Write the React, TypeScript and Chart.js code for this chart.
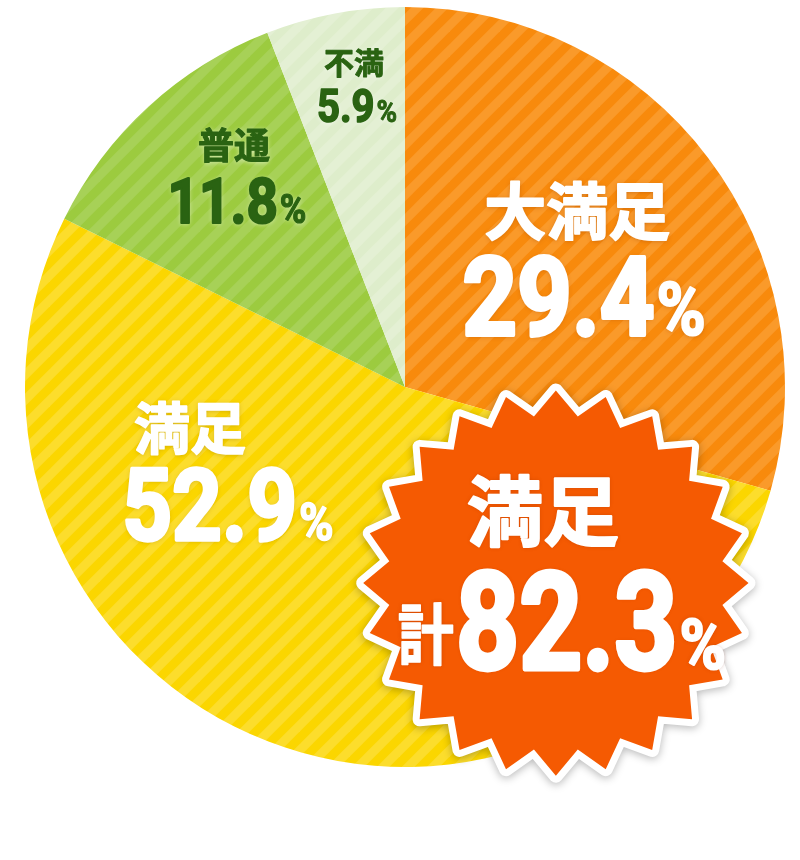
import React, { useEffect, useRef } from "react";
import { Chart, registerables } from "chart.js";

Chart.register(...registerables);

// ---- data ----
const categories = ["大満足", "満足", "普通", "不満"];
const values = [29.4, 52.9, 11.8, 5.9];
const summaryTitle = "満足";
const summaryPrefix = "計";
const summaryMembers = [0, 1];

// ---- styles ----
const baseColors = ["#F88A0C", "#FBD600", "#9CCB3F", "#DEEDCB"];
const stripeColors = ["#FA9A2A", "#FCDD2C", "#A7D157", "#E4F0D4"];
const textColors = ["#FFFFFF", "#FFFFFF", "#2A6312", "#2A6312"];
const shadowColors = ["rgba(150,60,0,0.45)", "rgba(140,100,0,0.40)", "rgba(255,255,255,0.6)", "rgba(255,255,255,0.6)"];
const titleSizes = [62, 56, 36, 30];
const numberSizes = [110, 100, 63, 46];
const pctSizes = [74, 52, 40, 31];
// label anchors relative to pie centre, in radius units: [titleX, titleY, numberCentreX, numberBaselineY]
const labelAnchors = [
  [0.453, -0.463, 0.471, -0.137],
  [-0.566, 0.108, -0.466, 0.403],
  [-0.45, -0.637, -0.442, -0.432],
  [-0.134, -0.855, -0.126, -0.697],
];
const burstAnchor = [0.397, 0.516];
const burstOuter = 0.507;
const burstInner = 0.442;
const burstSpikes = 24;

const NUM_FONT = "Roboto, 'Noto Sans', sans-serif";
const JP_FONT = "'Noto Sans CJK JP', 'Noto Sans', sans-serif";

function makeStripe(base: string, stripe: string) {
  const P = 25;
  const N = 2;
  const S = P * N;
  const c = document.createElement("canvas");
  c.width = S;
  c.height = S;
  const g = c.getContext("2d")!;
  g.fillStyle = base;
  g.fillRect(0, 0, S, S);
  g.strokeStyle = stripe;
  g.lineWidth = 9;
  for (let k = -N; k <= N; k++) {
    g.beginPath();
    g.moveTo(k * P - S, S + S);
    g.lineTo(k * P + S + S, -S);
    g.stroke();
  }
  return g.createPattern(c, "repeat")!;
}

function drawScaled(ctx: CanvasRenderingContext2D, text: string, x: number, y: number, font: string, sx: number, thick: number) {
  ctx.save();
  ctx.font = font;
  ctx.translate(x, y);
  ctx.scale(sx, 1);
  ctx.fillText(text, 0, 0);
  if (thick > 0) {
    ctx.shadowColor = "transparent";
    ctx.lineJoin = "round";
    ctx.lineWidth = thick;
    ctx.strokeStyle = ctx.fillStyle as string;
    ctx.strokeText(text, 0, 0);
  }
  ctx.restore();
}

function widthScaled(ctx: CanvasRenderingContext2D, text: string, font: string, sx: number) {
  ctx.save();
  ctx.font = font;
  const w = ctx.measureText(text).width * sx;
  ctx.restore();
  return w;
}

function drawNumberRow(
  ctx: CanvasRenderingContext2D,
  num: string,
  cx: number,
  baseline: number,
  numSize: number,
  pctSize: number,
  sx: number,
  prefix?: string,
  prefixSize?: number
) {
  const numFont = `bold ${numSize}px ${NUM_FONT}`;
  const pctFont = `bold ${pctSize}px ${NUM_FONT}`;
  const preFont = prefix ? `bold ${prefixSize}px ${JP_FONT}` : "";
  const wPre = prefix ? widthScaled(ctx, prefix, preFont, 0.85) : 0;
  const wNum = widthScaled(ctx, num, numFont, sx);
  const wPct = widthScaled(ctx, "%", pctFont, 0.9);
  const gap = 2;
  const total = wPre + (prefix ? gap : 0) + wNum + gap + wPct;
  let x = cx - total / 2;
  ctx.textAlign = "left";
  if (prefix) {
    ctx.textBaseline = "middle";
    drawScaled(ctx, prefix, x, baseline - numSize * 0.26, preFont, 0.85, 1.5);
    x += wPre + gap;
  }
  ctx.textBaseline = "alphabetic";
  drawScaled(ctx, num, x, baseline, numFont, sx, numSize * 0.035);
  x += wNum + gap;
  drawScaled(ctx, "%", x, baseline, pctFont, 0.9, pctSize * 0.03);
}

const labelPlugin = {
  id: "pieLabels",
  afterDatasetsDraw(chart: any) {
    const ctx: CanvasRenderingContext2D = chart.ctx;
    const meta = chart.getDatasetMeta(0);
    const arc = meta.data[0];
    const { x: cx, y: cy, outerRadius: R } = arc.getProps(["x", "y", "outerRadius"], true);
    const data = chart.data.datasets[0].data as number[];
    const labels = chart.data.labels as string[];

    // slice labels
    data.forEach((v, i) => {
      const a = labelAnchors[i];
      ctx.save();
      ctx.fillStyle = textColors[i];
      ctx.shadowColor = shadowColors[i];
      ctx.shadowBlur = 5;
      ctx.shadowOffsetY = 1;
      ctx.textAlign = "center";
      ctx.textBaseline = "middle";
      drawScaled(ctx, labels[i], cx + a[0] * R, cy + a[1] * R, `bold ${titleSizes[i]}px ${JP_FONT}`, 1, titleSizes[i] * 0.03);
      drawNumberRow(ctx, v.toFixed(1), cx + a[2] * R, cy + a[3] * R, numberSizes[i], pctSizes[i], 0.87);
      ctx.restore();
    });

    // starburst summary
    const bx = cx + burstAnchor[0] * R;
    const by = cy + burstAnchor[1] * R;
    const ro = burstOuter * R;
    const ri = burstInner * R;
    ctx.save();
    ctx.beginPath();
    for (let i = 0; i < burstSpikes * 2; i++) {
      const ang = -Math.PI / 2 + (i * Math.PI) / burstSpikes;
      const r = i % 2 === 0 ? ro : ri;
      const px = bx + r * Math.cos(ang);
      const py = by + r * Math.sin(ang);
      if (i === 0) ctx.moveTo(px, py);
      else ctx.lineTo(px, py);
    }
    ctx.closePath();
    ctx.shadowColor = "rgba(0,0,0,0.28)";
    ctx.shadowBlur = 8;
    ctx.shadowOffsetY = 2;
    ctx.lineJoin = "round";
    ctx.lineWidth = 14;
    ctx.strokeStyle = "#FFFFFF";
    ctx.stroke();
    ctx.shadowColor = "transparent";
    ctx.fillStyle = "#F55A02";
    ctx.fill();
    ctx.restore();

    const sum = summaryMembers.reduce((s, k) => s + data[k], 0);
    ctx.save();
    ctx.fillStyle = "#FFFFFF";
    ctx.shadowColor = "rgba(120,30,0,0.35)";
    ctx.shadowBlur = 4;
    ctx.textAlign = "center";
    ctx.textBaseline = "middle";
    drawScaled(ctx, summaryTitle, bx - 0.034 * R, by - 0.19 * R, `bold 76px ${JP_FONT}`, 1, 2.2);
    drawNumberRow(ctx, sum.toFixed(1), bx + 0.016 * R, by + 0.226 * R, 136, 70, 0.81, summaryPrefix, 66);
    ctx.restore();
  },
};

export default function App() {
  const ref = useRef<HTMLCanvasElement | null>(null);
  useEffect(() => {
    if (!ref.current) return;
    const patterns = baseColors.map((b, i) => makeStripe(b, stripeColors[i]));
    const chart = new Chart(ref.current, {
      type: "pie",
      data: {
        labels: categories,
        datasets: [
          {
            data: values,
            backgroundColor: patterns as any,
            borderWidth: 0,
          },
        ],
      },
      options: {
        animation: false,
        responsive: false,
        events: [],
        layout: { padding: { left: 25, right: 15, top: 7, bottom: 93 } },
        plugins: {
          legend: { display: false },
          tooltip: { enabled: false },
        },
      },
      plugins: [labelPlugin as any],
    });
    return () => chart.destroy();
  }, []);
  return (
    <div style={{ position: "absolute", left: 0, top: 0, width: 800, height: 860, background: "#FFFFFF" }}>
      <canvas ref={ref} width={800} height={860} style={{ display: "block", width: 800, height: 860 }} />
    </div>
  );
}
